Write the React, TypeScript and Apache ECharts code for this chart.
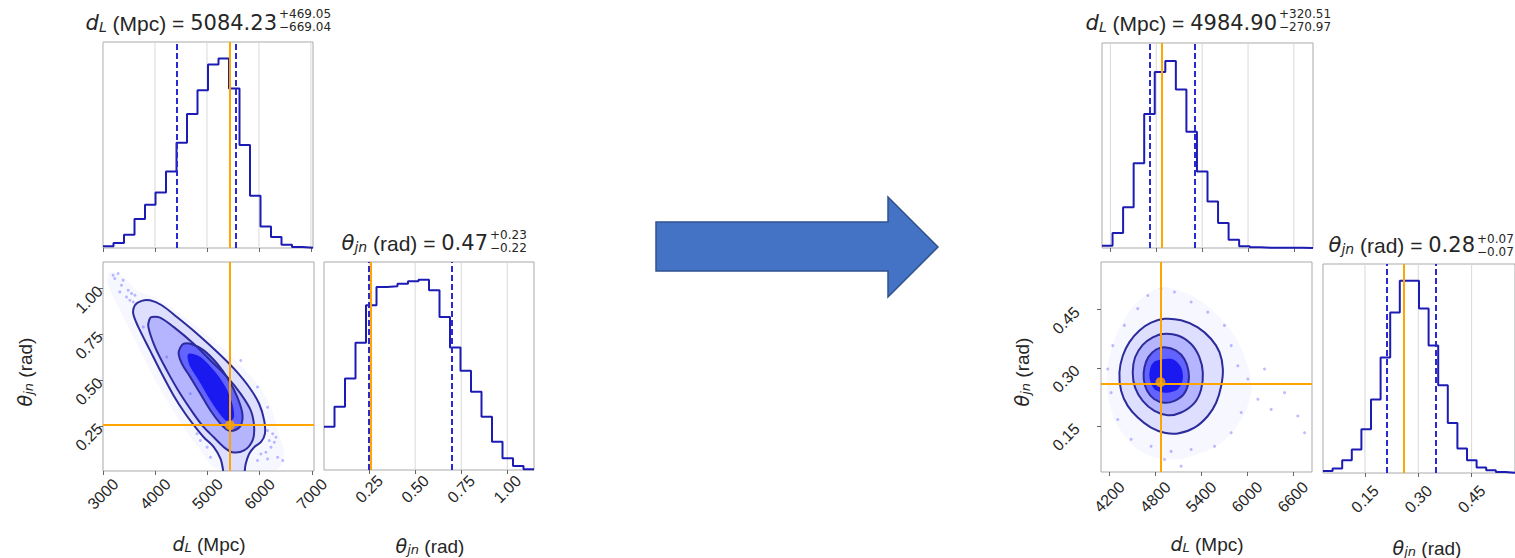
import React, { useEffect, useRef } from 'react';
import * as echarts from 'echarts';

// ---------------- data ----------------
// Left corner plot
const leftDEdges = [3000, 3202, 3404, 3606, 3808, 4010, 4212, 4414, 4616, 4818, 5020, 5222, 5424, 5626, 5828, 6030, 6232, 6434, 6636, 6838, 7040];
const leftDCounts = [5, 15, 40, 87, 130, 167, 230, 317, 403, 475, 552, 570, 480, 310, 157, 65, 33, 10, 3, 1];
const leftThEdges = [0.005, 0.062, 0.119, 0.176, 0.233, 0.29, 0.347, 0.404, 0.461, 0.518, 0.575, 0.632, 0.689, 0.746, 0.803, 0.86, 0.917, 0.974, 1.031, 1.088, 1.145];
const leftThCounts = [130, 190, 275, 382, 495, 550, 552, 560, 567, 572, 540, 460, 368, 298, 235, 160, 85, 35, 12, 2];
const leftDQuant = [4415.19, 5553.28];
const leftThQuant = [0.25, 0.7];
const leftDTruth = 5430;
const leftThTruth = 0.255;
const leftDTicks = [3000, 4000, 5000, 6000, 7000];
const leftThTicks = [0.25, 0.5, 0.75, 1.0];
const leftDTitle = ['5084.23', '+469.05', '\u2212669.04'];
const leftThTitle = ['0.47', '+0.23', '\u22120.22'];

const leftHalo = [[3129, 1.091], [3386, 1.064], [3643, 0.991], [4029, 0.945], [4479, 0.863], [4994, 0.745], [5508, 0.617], [5958, 0.481], [6216, 0.353], [6344, 0.226], [6473, 0.098], [6344, 0.016], [5958, 0.007], [5508, 0.007], [5122, 0.025], [4865, 0.117], [4543, 0.244], [4222, 0.39], [3900, 0.554], [3579, 0.736], [3322, 0.882], [3096, 1.027]];
const leftOuter = [[5302, 0.005], [5251, 0.071], [5122, 0.135], [4929, 0.189], [4769, 0.244], [4576, 0.317], [4351, 0.417], [4125, 0.536], [3900, 0.663], [3675, 0.791], [3579, 0.863], [3611, 0.909], [3740, 0.933], [3900, 0.936], [4125, 0.909], [4415, 0.845], [4801, 0.754], [5187, 0.654], [5508, 0.563], [5797, 0.463], [5990, 0.372], [6087, 0.28], [6100, 0.208], [6023, 0.162], [5894, 0.135], [5797, 0.098], [5733, 0.044], [5714, 0.005]];
const leftMiddle = [[3933, 0.845], [4093, 0.842], [4351, 0.791], [4736, 0.699], [5058, 0.608], [5379, 0.517], [5637, 0.426], [5830, 0.335], [5894, 0.244], [5862, 0.171], [5701, 0.117], [5476, 0.107], [5315, 0.135], [5122, 0.189], [4929, 0.244], [4736, 0.317], [4479, 0.426], [4222, 0.554], [3997, 0.681], [3868, 0.791], [3887, 0.831]];
const leftInner = [[4543, 0.699], [4704, 0.696], [4929, 0.663], [5187, 0.59], [5412, 0.499], [5572, 0.408], [5669, 0.317], [5637, 0.253], [5508, 0.226], [5379, 0.23], [5251, 0.262], [5058, 0.335], [4865, 0.426], [4672, 0.517], [4511, 0.59], [4447, 0.645], [4479, 0.678]];
const leftCore = [[4640, 0.645], [4865, 0.627], [5122, 0.554], [5347, 0.463], [5476, 0.372], [5508, 0.299], [5412, 0.272], [5283, 0.299], [5058, 0.39], [4833, 0.499], [4672, 0.572], [4620, 0.618]];
const leftDots = [[3193, 1.073], [3289, 1.082], [3386, 1.046], [3354, 1.018], [3482, 0.991], [3322, 0.982], [3547, 0.973], [3450, 0.954], [3611, 0.964], [3225, 1.055], [3579, 0.927], [3514, 0.936], [6151, 0.226], [6248, 0.208], [6280, 0.162], [6216, 0.135], [6119, 0.107], [6023, 0.098], [6151, 0.071], [6344, 0.08], [6441, 0.062], [5958, 0.062], [6183, 0.171], [6312, 0.189], [4994, 0.135], [5058, 0.08], [4865, 0.171], [4801, 0.208], [3772, 0.791], [4222, 0.627], [4672, 0.426], [5637, 0.608], [5958, 0.463], [6151, 0.353]];

// Right corner plot
const rightDEdges = [4090, 4228, 4366, 4504, 4642, 4780, 4918, 5056, 5194, 5332, 5470, 5608, 5746, 5884, 6022, 6160, 6298, 6436, 6574, 6712, 6850];
const rightDCounts = [7, 45, 123, 255, 403, 530, 563, 477, 350, 230, 140, 75, 25, 5, 2, 1, 0.5, 0.5, 0.5, 0.3];
const rightThEdges = [0.032, 0.059, 0.086, 0.113, 0.14, 0.167, 0.194, 0.221, 0.248, 0.275, 0.302, 0.329, 0.356, 0.383, 0.41, 0.437, 0.464, 0.491, 0.518, 0.545, 0.572];
const rightThCounts = [6, 13, 38, 70, 130, 218, 343, 476, 570, 570, 488, 378, 260, 148, 73, 38, 16, 8, 3, 1];
const rightDQuant = [4713.93, 5305.41];
const rightThQuant = [0.21, 0.35];
const rightDTruth = 4868;
const rightThTruth = 0.263;
const rightDTicks = [4200, 4800, 5400, 6000, 6600];
const rightThTicks = [0.15, 0.3, 0.45];
const rightDTitle = ['4984.90', '+320.51', '\u2212270.97'];
const rightThTitle = ['0.28', '+0.07', '\u22120.07'];

const rightHalo = [[4876, 0.508], [5269, 0.486], [5575, 0.443], [5836, 0.383], [6011, 0.305], [6055, 0.236], [5924, 0.167], [5662, 0.107], [5269, 0.072], [4920, 0.064], [4571, 0.09], [4309, 0.15], [4178, 0.228], [4178, 0.305], [4287, 0.383], [4527, 0.46]];
const rightOuter = [[4920, 0.426], [5138, 0.422], [5356, 0.404], [5531, 0.374], [5640, 0.34], [5684, 0.297], [5662, 0.253], [5596, 0.21], [5487, 0.176], [5313, 0.146], [5095, 0.131], [4920, 0.133], [4745, 0.146], [4571, 0.172], [4440, 0.202], [4353, 0.241], [4331, 0.288], [4375, 0.331], [4462, 0.366], [4593, 0.396], [4745, 0.416]];
const rightMiddle = [[4898, 0.387], [5095, 0.383], [5269, 0.361], [5378, 0.327], [5422, 0.288], [5400, 0.245], [5313, 0.21], [5138, 0.185], [4964, 0.178], [4789, 0.189], [4636, 0.215], [4536, 0.249], [4505, 0.288], [4536, 0.327], [4636, 0.359], [4767, 0.378]];
const rightInner = [[4920, 0.353], [5073, 0.344], [5182, 0.322], [5234, 0.292], [5234, 0.262], [5173, 0.232], [5051, 0.215], [4920, 0.21], [4789, 0.219], [4693, 0.241], [4649, 0.271], [4658, 0.301], [4711, 0.328], [4811, 0.347]];
const rightCore = [[4811, 0.318], [5029, 0.322], [5138, 0.301], [5160, 0.271], [5095, 0.245], [4942, 0.236], [4789, 0.245], [4724, 0.275], [4745, 0.305]];
const rightDots = [[4876, 0.503], [5051, 0.495], [4702, 0.486], [5269, 0.469], [5487, 0.443], [4571, 0.452], [4396, 0.409], [5705, 0.409], [5793, 0.357], [5880, 0.305], [6011, 0.271], [6142, 0.219], [5924, 0.185], [5793, 0.133], [5575, 0.098], [5269, 0.09], [5007, 0.085], [4745, 0.098], [4484, 0.116], [4309, 0.167], [4222, 0.236], [4178, 0.297], [4244, 0.357], [4920, 0.064], [5138, 0.047], [6229, 0.297], [6316, 0.193], [6491, 0.236], [6665, 0.176], [6753, 0.133]];

// ---------------- styling ----------------
const FONT = "'Liberation Sans', Arial, sans-serif";
const MATH = "'DejaVu Sans', sans-serif";
const TXT = '#262626';
const HIST = '#1c1cb4';
const DASH = '#2a2ad2';
const ORANGE = '#ffa500';
const CONTOUR = '#2b2b9c';
const TICKFONT = 16;

const grid = (left: number, top: number, width: number, height: number) => ({
  left, top, width, height, show: true, borderColor: '#a9a9a9', borderWidth: 1, backgroundColor: 'transparent',
});

const tickStyle = { show: true, length: 4, lineStyle: { color: '#666', width: 1 } };

const xAx = (gi: number, min: number, max: number, ticks: number[], labels: boolean, digits: number, margin: number) => ({
  type: 'value', gridIndex: gi, min, max,
  axisLine: { show: false }, splitLine: { show: false },
  axisTick: { ...tickStyle, customValues: ticks },
  axisLabel: {
    show: labels, customValues: ticks, rotate: 45, align: 'center', verticalAlign: 'middle', margin,
    showMinLabel: true, showMaxLabel: true,
    formatter: (v: number) => v.toFixed(digits), fontSize: TICKFONT, fontFamily: FONT, color: TXT,
  },
});

const yAx = (gi: number, min: number, max: number, ticks: number[], digits: number, margin: number) => ({
  type: 'value', gridIndex: gi, min, max,
  axisLine: { show: false }, splitLine: { show: false },
  axisTick: { ...tickStyle, customValues: ticks },
  axisLabel: {
    show: true, customValues: ticks, rotate: 45, align: 'right', verticalAlign: 'middle', margin,
    showMinLabel: true, showMaxLabel: true,
    formatter: (v: number) => v.toFixed(digits), fontSize: TICKFONT, fontFamily: FONT, color: TXT,
  },
});

const yHidden = (gi: number, max: number) => ({ type: 'value', gridIndex: gi, min: 0, max, show: false });

const vGrid = (gi: number, ticks: number[]) => ({
  type: 'custom', xAxisIndex: gi, yAxisIndex: gi, silent: true, z: 1,
  data: ticks.map((t) => [t, 0]),
  renderItem: (params: any, api: any) => {
    const cs = params.coordSys;
    const p = api.coord([api.value(0), api.value(1)]);
    return { type: 'line', shape: { x1: p[0], y1: cs.y, x2: p[0], y2: cs.y + cs.height }, style: { stroke: '#d9d9d9', lineWidth: 1 } };
  },
});

const hist = (gi: number, edges: number[], counts: number[], quant: number[], truth: number) => ({
  type: 'line', xAxisIndex: gi, yAxisIndex: gi, z: 3, step: 'end', symbol: 'none', silent: true,
  data: edges.map((e, i) => [e, counts[Math.min(i, counts.length - 1)]]),
  lineStyle: { color: HIST, width: 2 },
  markLine: {
    silent: true, symbol: ['none', 'none'], label: { show: false },
    data: [
      { xAxis: truth, lineStyle: { color: ORANGE, width: 2, type: 'solid' } },
      { xAxis: quant[0], lineStyle: { color: DASH, width: 2, type: [6, 3] } },
      { xAxis: quant[1], lineStyle: { color: DASH, width: 2, type: [6, 3] } },
    ],
  },
});

const poly = (gi: number, pts: number[][], fill: string, stroke: string, closed: boolean, z: number) => ({
  type: 'custom', xAxisIndex: gi, yAxisIndex: gi, silent: true, z, clip: true,
  data: [pts[0]],
  renderItem: (params: any, api: any) => {
    const points = pts.map((p) => api.coord(p));
    return {
      type: closed ? 'polygon' : 'polyline',
      shape: { points, smooth: 0.3 },
      style: { fill: closed ? fill : 'none', stroke, lineWidth: 2 },
    };
  },
});

const dots = (gi: number, pts: number[][]) => ({
  type: 'scatter', xAxisIndex: gi, yAxisIndex: gi, silent: true, z: 1,
  data: pts, symbolSize: 3, itemStyle: { color: 'rgba(70,70,255,0.45)' },
});

const truth = (gi: number, x: number, y: number) => ({
  type: 'scatter', xAxisIndex: gi, yAxisIndex: gi, silent: true, z: 6,
  data: [[x, y]], symbolSize: 10, itemStyle: { color: ORANGE },
  markLine: {
    silent: true, symbol: ['none', 'none'], label: { show: false },
    lineStyle: { color: ORANGE, width: 2, type: 'solid' },
    data: [{ xAxis: x }, { yAxis: y }],
  },
});

const twoD = (gi: number, halo: number[][], dotPts: number[][], outer: number[][], outerClosed: boolean, middle: number[][], inner: number[][], core: number[][], tx: number, ty: number) => [
  poly(gi, halo, 'rgba(90,90,255,0.05)', 'none', true, 1),
  dots(gi, dotPts),
  poly(gi, outer, 'rgba(80,80,255,0.15)', 'none', true, 2),
  poly(gi, middle, 'rgba(60,60,255,0.25)', 'none', true, 2),
  poly(gi, inner, 'rgba(40,40,255,0.58)', 'none', true, 2),
  poly(gi, core, 'rgba(0,0,235,0.75)', 'none', true, 2),
  poly(gi, outer, 'none', CONTOUR, outerClosed, 3),
  poly(gi, middle, 'none', CONTOUR, true, 3),
  poly(gi, inner, 'none', CONTOUR, true, 3),
  truth(gi, tx, ty),
];

const rich = {
  it: { fontFamily: MATH, fontStyle: 'italic', fontSize: 21, fill: TXT },
  sb: { fontFamily: MATH, fontStyle: 'italic', fontSize: 14, fill: TXT, verticalAlign: 'bottom' },
  n: { fontFamily: MATH, fontSize: 21, fill: TXT },
};
const richSmall = {
  it: { fontFamily: MATH, fontStyle: 'italic', fontSize: 19, fill: TXT },
  sb: { fontFamily: MATH, fontStyle: 'italic', fontSize: 13, fill: TXT, verticalAlign: 'bottom' },
};

const titleGfx = (sym: string, sub: string, unit: string, vals: string[], xEnd: number, y: number, supY: number, subY: number) => [
  {
    type: 'text', x: xEnd, y,
    style: { text: `{it|${sym}}{sb|${sub}} ${unit} = {n|${vals[0]}}`, rich, align: 'right', verticalAlign: 'middle', fontSize: 21, fontFamily: FONT, fill: TXT },
  },
  { type: 'text', x: xEnd + 2, y: supY, style: { text: vals[1], align: 'left', verticalAlign: 'middle', fontSize: 12, fontFamily: MATH, fill: TXT } },
  { type: 'text', x: xEnd + 2, y: subY, style: { text: vals[2], align: 'left', verticalAlign: 'middle', fontSize: 12, fontFamily: MATH, fill: TXT } },
];

const axisName = (sym: string, sub: string, unit: string, x: number, y: number, vertical: boolean) => ({
  type: 'text', x, y, rotation: vertical ? Math.PI / 2 : 0,
  style: { text: `{it|${sym}}{sb|${sub}} ${unit}`, rich: richSmall, align: 'center', verticalAlign: 'middle', fontSize: 19, fontFamily: FONT, fill: TXT },
});

function buildOption() {
  return {
    animation: false,
    backgroundColor: '#ffffff',
    grid: [
      grid(103, 42, 210, 206),
      grid(103, 262, 211, 209),
      grid(324, 262, 210, 208),
      grid(1102, 43, 211, 205),
      grid(1101, 262, 211, 210),
      grid(1323, 264, 211, 209),
    ],
    xAxis: [
      xAx(0, 3000, 7040, leftDTicks, false, 0, 23),
      xAx(1, 3000, 7040, leftDTicks, true, 0, 23),
      xAx(2, 0.005, 1.145, leftThTicks, true, 2, 19),
      xAx(3, 4090, 6850, rightDTicks, false, 0, 23),
      xAx(4, 4090, 6850, rightDTicks, true, 0, 25),
      xAx(5, 0.032, 0.572, rightThTicks, true, 2, 26),
    ],
    yAxis: [
      yHidden(0, 620),
      yAx(1, 0.005, 1.145, leftThTicks, 2, 3),
      yHidden(2, 625),
      yHidden(3, 617),
      yAx(4, 0.032, 0.572, rightThTicks, 2, 24),
      yHidden(5, 620),
    ],
    series: [
      vGrid(0, leftDTicks),
      vGrid(2, leftThTicks),
      vGrid(3, rightDTicks),
      vGrid(5, rightThTicks),
      hist(0, leftDEdges, leftDCounts, leftDQuant, leftDTruth),
      hist(2, leftThEdges, leftThCounts, leftThQuant, leftThTruth),
      hist(3, rightDEdges, rightDCounts, rightDQuant, rightDTruth),
      hist(5, rightThEdges, rightThCounts, rightThQuant, rightThTruth),
      ...twoD(1, leftHalo, leftDots, leftOuter, false, leftMiddle, leftInner, leftCore, leftDTruth, leftThTruth),
      ...twoD(4, rightHalo, rightDots, rightOuter, true, rightMiddle, rightInner, rightCore, rightDTruth, rightThTruth),
    ],
    graphic: [
      {
        type: 'polygon', silent: true,
        shape: { points: [[656, 222], [888, 222], [888, 197], [938, 247], [888, 297], [888, 271], [656, 271]] },
        style: { fill: '#4472c4', stroke: '#2f528f', lineWidth: 1.5 },
      },
      ...titleGfx('d', 'L', '(Mpc)', leftDTitle, 277, 23, 14, 26.5),
      ...titleGfx('\u03b8', 'jn', '(rad)', leftThTitle, 488, 243, 235, 248),
      ...titleGfx('d', 'L', '(Mpc)', rightDTitle, 1277, 23, 14, 26.5),
      ...titleGfx('\u03b8', 'jn', '(rad)', rightThTitle, 1475, 245, 238.5, 251.5),
      axisName('d', 'L', '(Mpc)', 209, 544, false),
      axisName('\u03b8', 'jn', '(rad)', 430, 546, false),
      axisName('d', 'L', '(Mpc)', 1207, 544, false),
      axisName('\u03b8', 'jn', '(rad)', 1427, 548, false),
      axisName('\u03b8', 'jn', '(rad)', 25, 372, true),
      axisName('\u03b8', 'jn', '(rad)', 1022, 372, true),
    ],
  };
}

export default function App() {
  const ref = useRef<HTMLDivElement>(null);
  useEffect(() => {
    if (!ref.current) return;
    const chart = echarts.init(ref.current, undefined, { renderer: 'svg' });
    chart.setOption(buildOption() as any);
    return () => chart.dispose();
  }, []);
  return <div ref={ref} style={{ position: 'fixed', left: 0, top: 0, width: 1515, height: 558, background: '#ffffff' }} />;
}
